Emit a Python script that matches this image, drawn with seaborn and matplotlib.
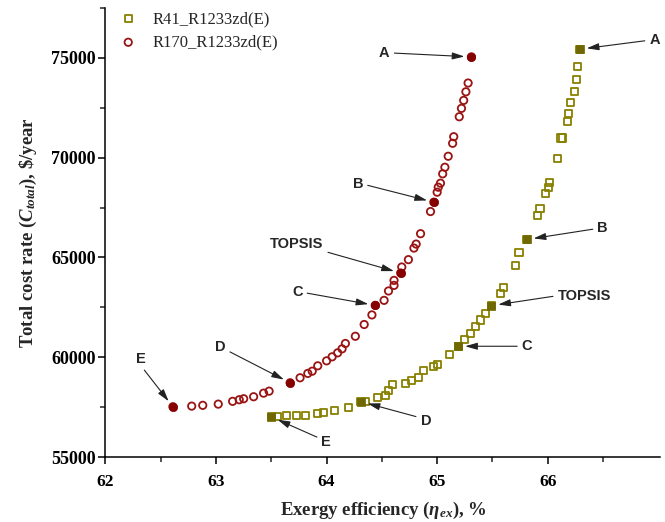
import matplotlib
matplotlib.use("Agg")
import matplotlib.pyplot as plt
import seaborn as sns
import pandas as pd
from matplotlib.ticker import FixedLocator, MultipleLocator

# Pareto front, R41_R1233zd(E): exergy efficiency (%) vs total cost rate ($/year)
r41_eff = [63.50, 63.56, 63.64, 63.73, 63.81, 63.92, 63.97, 64.07, 64.20, 64.31,
           64.35, 64.46, 64.53, 64.56, 64.60, 64.71, 64.77, 64.83, 64.88, 64.97,
           65.00, 65.11, 65.19, 65.25, 65.30, 65.35, 65.39, 65.44, 65.49, 65.57,
           65.60, 65.71, 65.74, 65.81, 65.91, 65.93, 65.98, 66.01, 66.02, 66.09,
           66.12, 66.135, 66.18, 66.19, 66.21, 66.24, 66.26, 66.27, 66.29]
r41_cost = [57010, 57035, 57060, 57085, 57100, 57165, 57240, 57350, 57485, 57775,
            57790, 57965, 58100, 58350, 58635, 58665, 58815, 58985, 59315, 59525,
            59650, 60140, 60550, 60900, 61200, 61535, 61865, 62200, 62585, 63200,
            63515, 64585, 65250, 65900, 67115, 67475, 68185, 68500, 68750, 69935,
            70985, 70985, 71800, 72200, 72785, 73300, 73935, 74565, 75435]

# Pareto front, R170_R1233zd(E)
r170_eff = [62.61, 62.78, 62.88, 63.02, 63.15, 63.21, 63.25, 63.34, 63.43, 63.48,
            63.67, 63.76, 63.83, 63.87, 63.92, 64.00, 64.05, 64.10, 64.14, 64.17,
            64.26, 64.34, 64.41, 64.44, 64.52, 64.56, 64.61, 64.61, 64.67, 64.68,
            64.74, 64.79, 64.81, 64.85, 64.94, 64.97, 65.00, 65.01, 65.03, 65.05,
            65.07, 65.10, 65.14, 65.15, 65.20, 65.22, 65.24, 65.26, 65.28, 65.31]
r170_cost = [57520, 57550, 57590, 57650, 57790, 57870, 57920, 58020, 58200, 58300,
             58720, 58970, 59190, 59300, 59570, 59820, 60020, 60220, 60420, 60690,
             61050, 61640, 62120, 62600, 62850, 63320, 63600, 63850, 64220, 64520,
             64890, 65470, 65670, 66190, 67300, 67770, 68270, 68520, 68720, 69190,
             69520, 70070, 70720, 71050, 72050, 72470, 72870, 73300, 73740, 75050]

# Selected solutions on each front
point_names = ["A", "B", "TOPSIS", "C", "D", "E"]
r41_key_idx = [48, 33, 28, 22, 9, 0]
r170_key_idx = [49, 35, 28, 23, 10, 0]

# Axis ticks
x_ticks = [62, 63, 64, 65, 66]
x_minor = [62.5, 63.5, 64.5, 65.5, 66.5]

# label placement relative to each selected point (pixels)
r41_offsets = [(75, 9), (76, 11), (93, 10), (69, 0), (65, -19), (55, -25)]
r170_offsets = [(-87, 4), (-76, 18), (-104, 29), (-78, 13), (-70, 36), (-32, 48)]
r170_relpos = [(1, 0.5), (1, 0.5), (1, 0.0), (1, 0.5), (1, 0.3), (0.5, 0.0)]
r41_relpos = [(0, 0.5), (0, 0.5), (0, 0.5), (0, 0.5), (0, 0.7), (0, 0.7)]

sns.set_theme(style="ticks")
plt.rcParams["font.family"] = ["Liberation Serif", "DejaVu Serif"]
plt.rcParams["mathtext.fontset"] = "custom"
plt.rcParams["mathtext.rm"] = "Liberation Serif:bold"
plt.rcParams["mathtext.it"] = "Liberation Serif:bold:italic"
plt.rcParams["mathtext.bf"] = "Liberation Serif:bold"

GREEN = "#888000"
GREEN_DARK = "#6f6800"
RED = "#9a1414"
RED_DARK = "#870000"

df41 = pd.DataFrame({"eff": r41_eff, "cost": r41_cost})
df170 = pd.DataFrame({"eff": r170_eff, "cost": r170_cost})

fig = plt.figure(figsize=(6.65, 5.22), dpi=100)
ax = fig.add_axes([0.1586, 0.1245, 0.8346, 0.8602])

sns.scatterplot(data=df41, x="eff", y="cost", ax=ax, marker="s", s=26,
                color=GREEN, facecolor="none", edgecolor=GREEN, linewidth=1.3,
                label="R41_R1233zd(E)", zorder=3)
sns.scatterplot(data=df170, x="eff", y="cost", ax=ax, marker="o", s=28,
                color=RED, facecolor="none", edgecolor=RED, linewidth=1.3,
                label="R170_R1233zd(E)", zorder=3)

key41 = df41.iloc[r41_key_idx]
key170 = df170.iloc[r170_key_idx]
sns.scatterplot(data=key41, x="eff", y="cost", ax=ax, marker="s", s=30,
                color=GREEN_DARK, edgecolor=GREEN_DARK, linewidth=0.5,
                legend=False, zorder=4)
sns.scatterplot(data=key170, x="eff", y="cost", ax=ax, marker="o", s=36,
                color=RED_DARK, edgecolor=RED_DARK, linewidth=0.5,
                legend=False, zorder=4)

arrow_kw = dict(arrowstyle="-|>,head_length=0.7,head_width=0.2",
                color="#222222", lw=0.8, shrinkA=1, shrinkB=5)
for name, (x, y), off, rp in zip(point_names, key170[["eff", "cost"]].values,
                                  r170_offsets, r170_relpos):
    ax.annotate(name, xy=(x, y), xytext=off, textcoords="offset pixels",
                ha="center", va="center", fontsize=10.5, fontweight="bold",
                family="Liberation Sans",
                arrowprops=dict(arrow_kw, relpos=rp), zorder=5)
for name, (x, y), off, rp in zip(point_names, key41[["eff", "cost"]].values,
                                  r41_offsets, r41_relpos):
    ax.annotate(name, xy=(x, y), xytext=off, textcoords="offset pixels",
                ha="center", va="center", fontsize=10.5, fontweight="bold",
                family="Liberation Sans",
                arrowprops=dict(arrow_kw, relpos=rp), zorder=5)

ax.set_xlim(62, 67.02)
ax.set_ylim(55000, 77500)
ax.xaxis.set_major_locator(FixedLocator(x_ticks))
ax.xaxis.set_minor_locator(FixedLocator(x_minor))
ax.yaxis.set_major_locator(MultipleLocator(5000))
ax.yaxis.set_minor_locator(MultipleLocator(2500))
ax.tick_params(which="major", direction="out", length=5, width=1.1,
               colors="black")
ax.tick_params(which="minor", direction="out", length=3.5, width=1.1)
ax.tick_params(axis="x", which="major", labelsize=12.5, pad=7)
ax.tick_params(axis="y", which="major", labelsize=13, pad=2)
for lab in ax.get_xticklabels() + ax.get_yticklabels():
    lab.set_fontweight("bold")

sns.despine(ax=ax)
for sp in ("left", "bottom"):
    ax.spines[sp].set_linewidth(1.1)
    ax.spines[sp].set_color("black")

ax.set_xlabel(r"Exergy efficiency ($\eta_{ex}$), %", fontsize=13.5,
              fontweight="bold", labelpad=7)
ax.set_ylabel(r"Total cost rate ($C_{total}$), \$/year", fontsize=13.5,
              fontweight="bold", labelpad=9)

leg = ax.legend(loc="upper left", bbox_to_anchor=(0.026, 0.993), frameon=False,
                fontsize=12, handlelength=1.0, handletextpad=0.95,
                labelspacing=0.45, borderpad=0.0, borderaxespad=0.0)

fig.savefig("out.png", dpi=100)
